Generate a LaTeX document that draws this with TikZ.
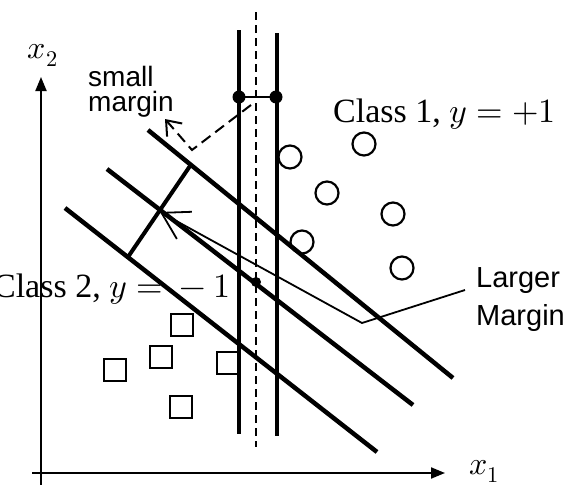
\documentclass[tikz,border=0pt]{standalone}
\usepackage{fontspec}
\usepackage{unicode-math}
\setmainfont{Liberation Serif}
\newfontfamily\labelsans{Liberation Sans}
\usetikzlibrary{arrows.meta}
\begin{document}
\begin{tikzpicture}[x=1pt,y=-1pt,
  axisline/.style={line width=2pt,-{Triangle[length=14pt,width=11pt]}},
  hyper/.style={line width=4.5pt},
  midline/.style={line width=2.5pt,dash pattern=on 8pt off 5pt},
  leader/.style={line width=1.8pt},
  dashleader/.style={line width=2pt,dash pattern=on 11pt off 6pt},
  sample/.style={draw,line width=2.2pt,inner sep=0pt},
  circ/.style={sample,circle,minimum size=23pt},
  sq/.style={sample,rectangle,minimum size=22pt},
  classlbl/.style={font=\fontsize{34}{40}\selectfont,inner sep=0pt},
  sanslbl/.style={font=\labelsans\fontsize{28}{25}\selectfont,inner sep=0pt,align=left},
  axlbl/.style={font=\fontsize{32}{34}\selectfont,inner sep=0pt}]
\useasboundingbox (0,0) rectangle (566,485);
% axes
\coordinate (o1) at (41,485);
\coordinate (o2) at (41,77);
\coordinate (h1) at (32,473);
\coordinate (h2) at (445,473);
\draw[axisline] (o1) -- (o2);
\draw[axisline] (h1) -- (h2);
\node[axlbl] (x2) at (43,55) {$x_2$};
\node[axlbl] (x1) at (484,471) {$x_1$};
% samples
\node[circ] (c1) at (290,157) {};
\node[circ] (c2) at (364,144) {};
\node[circ] (c3) at (327,193) {};
\node[circ] (c4) at (393,214) {};
\node[circ] (c5) at (302,242) {};
\node[circ] (c6) at (402,268) {};
\node[sq] (s1) at (182,325) {};
\node[sq] (s2) at (161,357) {};
\node[sq] (s3) at (115,370) {};
\node[sq] (s4) at (228,363) {};
\node[sq] (s5) at (181,407) {};
% vertical separator with small margin
\coordinate (v1a) at (239,30);  \coordinate (v1b) at (239,434);
\coordinate (vma) at (256,12);  \coordinate (vmb) at (256,447);
\coordinate (v2a) at (277,33);  \coordinate (v2b) at (277,436);
\draw[hyper] (v1a) -- (v1b);
\draw[hyper] (v2a) -- (v2b);
\draw[midline] (vma) -- (vmb);
\coordinate (d1) at (239,97);
\coordinate (d2) at (276,97);
\coordinate (d3) at (256,282);
\draw[leader] (d1) -- (d2);
\fill (d1) circle (6.5pt);
\fill (d2) circle (6.5pt);
\fill (d3) circle (5pt);
% slanted separator with larger margin
\coordinate (a1) at (148,130); \coordinate (a2) at (453,378);
\coordinate (b1) at (107,169); \coordinate (b2) at (413,405);
\coordinate (cc1) at (65,208); \coordinate (cc2) at (377,452);
\draw[hyper] (a1) -- (a2);
\draw[hyper] (b1) -- (b2);
\draw[hyper] (cc1) -- (cc2);
\coordinate (m1) at (190,166);
\coordinate (m2) at (128,257);
\draw[line width=4pt] (m1) -- (m2);
% labels
\node[classlbl,anchor=base west] (cl1) at (333,122) {Class 1, $y=+1$};
\node[classlbl,anchor=base east] (cl2) at (231,297) {Class 2, $y = {} - 1$};
\node[sanslbl,anchor=base west] (sm) at (88,111) {small\\margin};
\node[sanslbl,anchor=base west,font=\labelsans\fontsize{29}{38}\selectfont] (lm) at (476,325) {Larger\\Margin};
% leaders
\coordinate (sm0) at (251,105);
\coordinate (sm1) at (192,150);
\coordinate (smt) at (165,119);
\draw[dashleader,-{Straight Barb[length=13pt,width=20pt]}] (sm0) -- (sm1) -- (smt);
\coordinate (lm0) at (465,290);
\coordinate (lm1) at (362,323);
\coordinate (lmt) at (160,212);
\draw[leader,-{Straight Barb[length=26pt,width=31pt]}] (lm0) -- (lm1) -- (lmt);
\end{tikzpicture}
\end{document}
